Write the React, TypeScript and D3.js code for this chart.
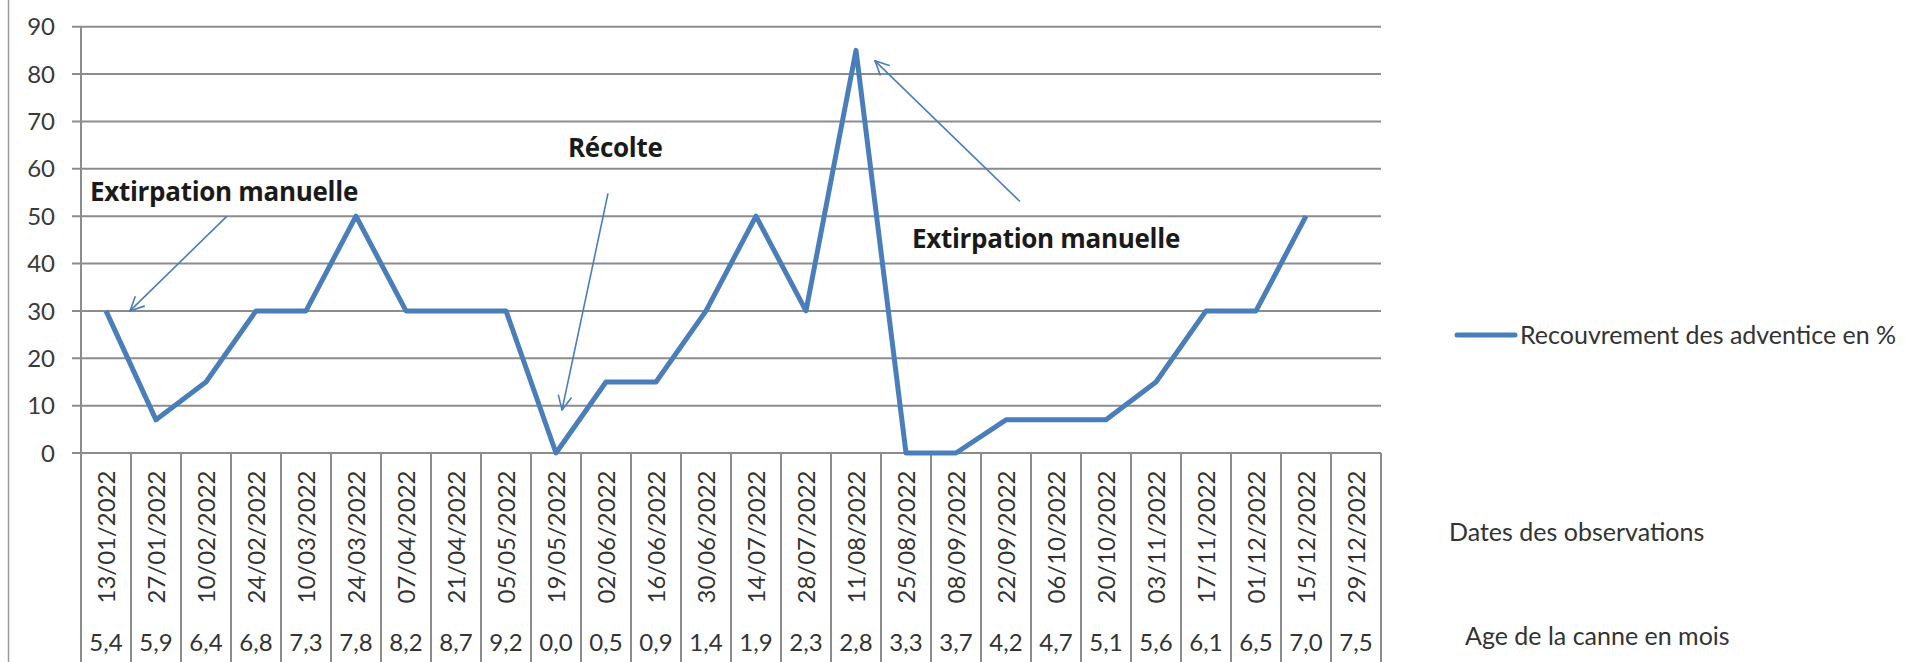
import { useEffect, useRef } from 'react';
import * as d3 from 'd3';

const dates = [
  '13/01/2022', '27/01/2022', '10/02/2022', '24/02/2022', '10/03/2022', '24/03/2022',
  '07/04/2022', '21/04/2022', '05/05/2022', '19/05/2022', '02/06/2022', '16/06/2022',
  '30/06/2022', '14/07/2022', '28/07/2022', '11/08/2022', '25/08/2022', '08/09/2022',
  '22/09/2022', '06/10/2022', '20/10/2022', '03/11/2022', '17/11/2022', '01/12/2022',
  '15/12/2022', '29/12/2022',
];

const ages = [
  '5,4', '5,9', '6,4', '6,8', '7,3', '7,8', '8,2', '8,7', '9,2', '0,0', '0,5', '0,9', '1,4',
  '1,9', '2,3', '2,8', '3,3', '3,7', '4,2', '4,7', '5,1', '5,6', '6,1', '6,5', '7,0', '7,5',
];

// Recouvrement des adventices (%), last date has no value
const coverage: (number | null)[] = [
  30, 7, 15, 30, 30, 50, 30, 30, 30, 0, 15, 15, 30, 50, 30, 85, 0, 0, 7, 7, 7, 15, 30, 30, 50, null,
];

const yTicks = [0, 10, 20, 30, 40, 50, 60, 70, 80, 90];

const seriesName = 'Recouvrement des adventice en %';
const rowLabels = ['Dates des observations', 'Age de la canne en mois'];

// annotations in data units: position in category steps from the left edge, value in %
const notes = [
  { text: 'Extirpation manuelle', at: [0.18, 53.3], from: [2.92, 50], to: [0.98, 30] },
  { text: 'Récolte', at: [9.74, 62.4], from: [10.54, 54.8], to: [9.62, 9.1] },
  { text: 'Extirpation manuelle', at: [16.62, 43.2], from: [18.78, 53.1], to: [15.88, 82.8] },
];

const FONT = 'Lato, "Open Sans", sans-serif';
const NOTE_FONT = '"Open Sans", Lato, sans-serif';
const BLUE = '#4a7ebb';
const GRID = '#8c8c8c';

export default function App() {
  const svgRef = useRef<SVGSVGElement>(null);

  useEffect(() => {
    if (!svgRef.current) return;
    const width = 1918;
    const height = 662;
    const left = 81;
    const right = 1381;
    const top = 26.7;
    const bottom = 453;

    const svg = d3.select(svgRef.current);
    svg.selectAll('*').remove();
    svg.attr('width', width).attr('height', height).style('font-family', FONT);

    const x = d3.scaleBand<string>().domain(dates).range([left, right]);
    const y = d3.scaleLinear().domain([0, 90]).range([bottom, top]);
    const fx = (f: number) => left + f * x.step();

    // picture frame on the left
    svg.append('line')
      .attr('x1', 8.5).attr('x2', 8.5).attr('y1', 0).attr('y2', height)
      .attr('stroke', '#9a9a9a').attr('stroke-width', 1.5);

    // horizontal gridlines
    svg.append('g')
      .selectAll('line')
      .data(yTicks)
      .enter()
      .append('line')
      .attr('x1', left - 9)
      .attr('x2', right)
      .attr('y1', d => y(d))
      .attr('y2', d => y(d))
      .attr('stroke', GRID)
      .attr('stroke-width', 2);

    // y axis
    svg.append('line')
      .attr('x1', left).attr('x2', left).attr('y1', top).attr('y2', bottom)
      .attr('stroke', GRID).attr('stroke-width', 2);

    svg.append('g')
      .selectAll('text')
      .data(yTicks)
      .enter()
      .append('text')
      .attr('x', 55)
      .attr('y', d => y(d))
      .attr('dy', '0.36em')
      .attr('text-anchor', 'end')
      .attr('fill', '#3a3a3a')
      .style('font-size', '24px')
      .text(d => d);

    // table below the axis
    const bounds = dates.map(d => x(d)!).concat([right]);
    svg.append('g')
      .selectAll('line')
      .data(bounds)
      .enter()
      .append('line')
      .attr('x1', d => d)
      .attr('x2', d => d)
      .attr('y1', bottom)
      .attr('y2', height)
      .attr('stroke', GRID)
      .attr('stroke-width', 2);

    const cx = (d: string) => x(d)! + x.bandwidth() / 2;

    svg.append('g')
      .selectAll('text')
      .data(dates)
      .enter()
      .append('text')
      .attr('transform', d => `translate(${cx(d)},537) rotate(-90)`)
      .attr('dy', '0.36em')
      .attr('text-anchor', 'middle')
      .attr('fill', '#333')
      .style('font-size', '24px')
      .text(d => d);

    svg.append('g')
      .selectAll('text')
      .data(dates)
      .enter()
      .append('text')
      .attr('x', d => cx(d))
      .attr('y', 651)
      .attr('text-anchor', 'middle')
      .attr('fill', '#333')
      .style('font-size', '24px')
      .text((d, i) => ages[i]);

    // data line
    const line = d3.line<number | null>()
      .defined(d => d !== null)
      .x((d, i) => cx(dates[i]))
      .y(d => y(d as number));

    svg.append('path')
      .datum(coverage)
      .attr('d', line)
      .attr('fill', 'none')
      .attr('stroke', BLUE)
      .attr('stroke-width', 5)
      .attr('stroke-linejoin', 'round');

    // annotations
    const ann = svg.append('g');
    notes.forEach(n => {
      const x1 = fx(n.from[0]);
      const y1 = y(n.from[1]);
      const x2 = fx(n.to[0]);
      const y2 = y(n.to[1]);
      ann.append('line')
        .attr('x1', x1).attr('y1', y1).attr('x2', x2).attr('y2', y2)
        .attr('stroke', BLUE).attr('stroke-width', 1.6);
      const ang = Math.atan2(y1 - y2, x1 - x2);
      const len = 15;
      const spread = 0.45;
      [-spread, spread].forEach(s => {
        ann.append('line')
          .attr('x1', x2).attr('y1', y2)
          .attr('x2', x2 + len * Math.cos(ang + s))
          .attr('y2', y2 + len * Math.sin(ang + s))
          .attr('stroke', BLUE).attr('stroke-width', 1.6)
          .attr('stroke-linecap', 'round');
      });
      ann.append('text')
        .attr('x', fx(n.at[0]))
        .attr('y', y(n.at[1]))
        .attr('fill', '#1a1a1a')
        .style('font-family', NOTE_FONT)
        .style('font-size', '26px')
        .style('font-weight', 'bold')
        .style('letter-spacing', '-0.3px')
        .text(n.text);
    });

    // legend
    svg.append('line')
      .attr('x1', 1457).attr('x2', 1515).attr('y1', 335).attr('y2', 335)
      .attr('stroke', BLUE).attr('stroke-width', 5).attr('stroke-linecap', 'round');
    svg.append('text')
      .attr('x', 1520).attr('y', 344)
      .attr('fill', '#333')
      .style('font-size', '25px')
      .text(seriesName);

    // row labels of the table
    svg.append('text')
      .attr('x', 1449).attr('y', 541)
      .attr('fill', '#333')
      .style('font-size', '25px')
      .text(rowLabels[0]);
    svg.append('text')
      .attr('x', 1465).attr('y', 645)
      .attr('fill', '#333')
      .style('font-size', '25px')
      .text(rowLabels[1]);
  }, []);

  return (
    <div style={{ position: 'fixed', left: 0, top: 0, width: 1918, height: 662, background: '#fff' }}>
      <svg ref={svgRef} style={{ display: 'block' }} />
    </div>
  );
}
